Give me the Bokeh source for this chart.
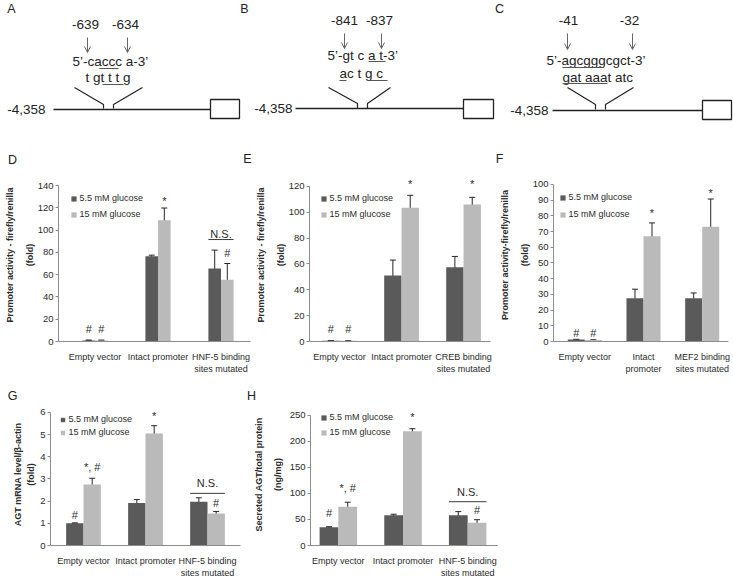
from bokeh.plotting import figure
from bokeh.models import (ColumnDataSource, Range1d, FixedTicker, LinearAxis, Whisker, TeeHead,
                          Legend, LegendItem, LabelSet, Arrow, OpenHead)
from bokeh.layouts import column, row
from bokeh.core.properties import value
from bokeh.embed import file_html
from bokeh.resources import INLINE

FONT = "Liberation Sans"
DARK = "#5a5a5a"
LIGHT = "#bababa"
AXIS = "#8c8c8c"
TXT = "#2b2b2b"
ERR = "#262626"

legend_labels = ["5.5 mM glucose", "15 mM glucose"]

# ---------------- Panel D ----------------
d_categories = ["Empty vector", "Intact promoter", "HNF-5 binding\nsites mutated"]
d_low = [1.0, 76.5, 65.5]
d_low_err = [0.3, 1.0, 16.5]
d_high = [1.0, 108.8, 55.5]
d_high_err = [0.3, 11.0, 14.5]
d_mark_text = ["#", "#", "*", "#"]
d_mark_cat = [0, 0, 1, 2]
d_mark_bar = ["low", "high", "high", "high"]
d_mark_y = [11, 11, 126, 79]
d_ns = (2, 96.5, 91.5)

# ---------------- Panel E ----------------
e_categories = ["Empty vector", "Intact promoter", "CREB binding\nsites mutated"]
e_low = [0.5, 51.0, 57.5]
e_low_err = [0.2, 12.0, 8.3]
e_high = [0.5, 103.5, 106.0]
e_high_err = [0.2, 9.6, 5.5]
e_mark_text = ["#", "#", "*", "*"]
e_mark_cat = [0, 0, 1, 2]
e_mark_bar = ["low", "high", "high", "high"]
e_mark_y = [9.5, 9.5, 121.5, 121.5]
e_ns = None

# ---------------- Panel F ----------------
f_categories = ["Empty vector", "Intact\npromoter", "MEF2 binding\nsites mutated"]
f_low = [1.2, 27.6, 27.6]
f_low_err = [0.2, 5.7, 3.3]
f_high = [0.9, 67.0, 73.0]
f_high_err = [0.2, 8.5, 17.7]
f_mark_text = ["#", "#", "*", "*"]
f_mark_cat = [0, 0, 1, 2]
f_mark_bar = ["low", "high", "high", "high"]
f_mark_y = [5.3, 5.3, 81.5, 94.7]
f_ns = None

# ---------------- Panel G ----------------
g_categories = ["Empty vector", "Intact promoter", "HNF-5 binding\nsites mutated"]
g_low = [1.0, 1.92, 1.97]
g_low_err = [0.02, 0.15, 0.18]
g_high = [2.75, 5.05, 1.44]
g_high_err = [0.28, 0.35, 0.09]
g_mark_text = ["#", "*, #", "*", "#"]
g_mark_cat = [0, 0, 1, 2]
g_mark_bar = ["low", "high", "high", "high"]
g_mark_y = [1.37, 3.54, 5.83, 1.9]
g_ns = (2, 2.83, 2.35)

# ---------------- Panel H ----------------
h_categories = ["Empty vector", "Intact promoter", "HNF-5 binding\nsites mutated"]
h_low = [35.0, 58.0, 58.0]
h_low_err = [1.0, 2.0, 7.0]
h_high = [74.5, 219.0, 43.5]
h_high_err = [8.5, 5.0, 6.0]
h_mark_text = ["#", "*, #", "*", "#"]
h_mark_cat = [0, 0, 1, 2]
h_mark_bar = ["low", "high", "high", "high"]
h_mark_y = [62, 110, 247, 68]
h_ns = (2, 102, 84)

# ---------------- Promoter diagrams (A, B, C) ----------------
panel_letters = ["A", "B", "C", "D", "E", "F"]
lower_letters = ["G", "H"]
site_labels = ["-639", "-634", "-841", "-837", "-41", "-32"]
seq_texts = ["5\u2019-caccc a-3\u2019", "t gt t t g", "5\u2019-gt c a t-3\u2019", "ac t g c",
             "5\u2019-agcgggcgct-3\u2019", "gat aaat atc"]
start_labels = ["-4,358", "-4,358", "-4,358"]


def bar_panel(cfg, cats, low, low_err, high, high_err, mk_text, mk_cat, mk_bar, mk_y, ns):
    fx0, fx1, fy0, fy1 = cfg["fig"]
    L, R, T, B = cfg["frame"]
    W = fx1 - fx0
    H = fy1 - fy0
    fh = B - fy0
    sp = cfg["sp"]
    bw = cfg["bw"]
    ymax = cfg["ymax"]
    xs = 0.5 - (cfg["c0"] - L) / sp
    xe = xs + (fx1 - L) / sp
    x_axis_end = xs + (R - L) / sp
    ytop = ymax * (B - fy0) / (B - T)
    p = figure(width=W, height=H, x_range=Range1d(xs, xe), y_range=Range1d(0, ytop),
               output_backend="svg", toolbar_location=None, tools="",
               min_border_left=L - fx0, min_border_right=0,
               min_border_top=0, min_border_bottom=fy1 - B,
               background_fill_color="white", border_fill_color="white")
    p.outline_line_color = None
    p.xgrid.visible = False
    p.ygrid.visible = False

    pos = [i + 0.5 for i in range(len(cats))]
    src = ColumnDataSource(dict(
        x_low=[x - bw / 2 for x in pos], x_high=[x + bw / 2 for x in pos],
        low=low, high=high,
        low_up=[v + e for v, e in zip(low, low_err)], low_lo=[v - e for v, e in zip(low, low_err)],
        high_up=[v + e for v, e in zip(high, high_err)], high_lo=[v - e for v, e in zip(high, high_err)],
    ))
    p.vbar(x="x_low", top="low", width=bw, source=src, fill_color=DARK, line_color=None)
    p.vbar(x="x_high", top="high", width=bw, source=src, fill_color=LIGHT, line_color=None)
    for xk, up, lo in (("x_low", "low_up", "low_lo"), ("x_high", "high_up", "high_lo")):
        w = Whisker(source=src, base=xk, upper=up, lower=lo, line_color=ERR, line_width=1,
                    upper_head=TeeHead(size=6, line_color=ERR, line_width=1),
                    lower_head=TeeHead(size=6, line_color=ERR, line_width=1))
        p.add_layout(w)

    # x axis
    xa = p.xaxis[0]
    xa.ticker = FixedTicker(ticks=pos)
    xa.bounds = (xs, x_axis_end)
    xa.major_label_overrides = {x: c for x, c in zip(pos, cats)}
    xa.major_tick_line_color = None
    xa.minor_tick_line_color = None
    xa.axis_line_color = AXIS
    xa.major_label_text_font = FONT
    xa.major_label_text_font_size = "9px"
    xa.major_label_text_color = TXT
    xa.major_label_standoff = 4

    # y axis
    ya = p.yaxis[0]
    ya.ticker = FixedTicker(ticks=list(range(0, ymax + 1, cfg["ystep"])))
    ya.bounds = (0, ymax)
    ya.major_tick_out = 3
    ya.major_tick_in = 0
    ya.minor_tick_line_color = None
    ya.axis_line_color = AXIS
    ya.major_tick_line_color = AXIS
    ya.major_label_text_font = FONT
    ya.major_label_text_font_size = "9.5px"
    ya.major_label_text_color = TXT
    ya.major_label_standoff = 2
    ya.axis_label = cfg["ylab"][1]
    ya.axis_label_text_font = FONT
    ya.axis_label_text_font_style = "bold"
    ya.axis_label_text_font_size = "9px"
    ya.axis_label_text_color = TXT
    ya.axis_label_standoff = cfg["so"][0]

    ya2 = LinearAxis(ticker=FixedTicker(ticks=[]), axis_label=cfg["ylab"][0], bounds=(0, ymax),
                     axis_line_color=None, major_tick_line_color=None, minor_tick_line_color=None,
                     major_tick_out=0, major_tick_in=0, major_label_standoff=0,
                     axis_label_standoff=cfg["so"][1], axis_label_text_font=FONT,
                     axis_label_text_font_style="bold", axis_label_text_font_size="9px",
                     axis_label_text_color=TXT)
    p.add_layout(ya2, "left")

    # legend keys (square markers, not drawn in the plot itself)
    r1 = p.scatter(x="x_low", y="low", source=src, marker="square", fill_color=DARK,
                   line_color=None, visible=False)
    r2 = p.scatter(x="x_high", y="high", source=src, marker="square", fill_color=LIGHT,
                   line_color=None, visible=False)
    lx, ly, gh, spc = cfg["leg"]
    gw = 13
    vx = (lx - L) - gw / 2
    top_gap = (ly - fy0) - gh / 2
    leg_h = 2 * gh + spc
    vy = fh - top_gap - leg_h
    leg = Legend(items=[LegendItem(label=legend_labels[0], renderers=[r1]),
                        LegendItem(label=legend_labels[1], renderers=[r2])],
                 location=(vx, vy), glyph_width=gw, glyph_height=gh, label_height=gh,
                 label_width=10, spacing=spc, padding=0, margin=0, label_standoff=-1,
                 border_line_color=None, background_fill_alpha=0,
                 label_text_font=FONT, label_text_font_size="9px", label_text_color=TXT)
    p.add_layout(leg)

    # significance marks
    mx = []
    for c, b in zip(mk_cat, mk_bar):
        off = -bw / 2 if b == "low" else (bw / 2 if b == "high" else 0)
        mx.append(pos[c] + off)
    texts = list(mk_text)
    ys = list(mk_y)
    if ns is not None:
        c, ty, ly2 = ns
        mx.append(pos[c])
        texts.append("N.S.")
        ys.append(ty)
        p.segment(x0=[pos[c] - bw], x1=[pos[c] + bw], y0=[ly2], y1=[ly2],
                  line_color="#3a3a3a", line_width=1)
    msrc = ColumnDataSource(dict(x=mx, y=ys, text=texts))
    p.add_layout(LabelSet(x="x", y="y", text="text", source=msrc, text_align="center",
                          text_baseline="middle", text_font=value(FONT),
                          text_font_size="11px", text_color=TXT))
    return p


def blank_canvas(width, y0, y1):
    f = figure(width=width, height=y1 - y0, x_range=Range1d(0, width), y_range=Range1d(y1, y0),
               output_backend="svg", toolbar_location=None, tools="",
               x_axis_location=None, y_axis_location=None, min_border=0,
               min_border_left=0, min_border_right=0, min_border_top=0, min_border_bottom=0,
               background_fill_color="white", border_fill_color="white")
    f.outline_line_color = None
    f.xgrid.visible = False
    f.ygrid.visible = False
    return f


tf = value(FONT)

# ---------------- top diagrams (+ letters of the middle row) ----------------
top = blank_canvas(733, 0, 168)
top.text(x=[11, 244, 499, 12, 247, 499], y=[8.5, 8.5, 8.5, 159, 158, 158], text=panel_letters,
         text_font=tf, text_font_size="12.5px", text_align="center", text_baseline="middle",
         text_color="#222222")
top.text(x=[85, 125, 344, 379, 568, 629], y=[24, 24, 20, 20, 20, 20], text=site_labels,
         text_font=tf, text_font_size="13.5px", text_align="center", text_baseline="middle",
         text_color="#222222")
top.text(x=[72, 85, 327, 339, 546, 562], y=[61, 77, 55, 73, 60, 77], text=seq_texts,
         text_font=tf, text_font_size="13.5px", text_align="left", text_baseline="middle",
         text_color="#222222")
top.text(x=[45, 292, 548], y=[109, 108, 110], text=start_labels, text_font=tf,
         text_font_size="13.5px", text_align="right", text_baseline="middle", text_color="#222222")
arrow_src = ColumnDataSource(dict(x0=[87, 127, 344, 381, 567, 632], y0=[37, 37, 33, 33, 33, 33],
                                  x1=[87, 127, 344, 381, 567, 632], y1=[52, 52, 48, 48, 49, 49]))
top.add_layout(Arrow(source=arrow_src, x_start="x0", y_start="y0", x_end="x1", y_end="y1",
                     line_color="#666666", line_width=1,
                     end=OpenHead(size=6, line_color="#666666", line_width=1)))
top.segment(x0=[99, 102, 368, 339, 368, 562, 562], x1=[118, 123, 385, 346, 387, 603, 607],
            y0=[68, 84, 61, 80, 80, 67, 83], y1=[68, 84, 61, 80, 80, 67, 83],
            line_color="#555555", line_width=1)
top.multi_line(xs=[[74, 103, 103], [142, 113, 113], [328, 357, 357], [390, 367, 367],
                   [567, 595, 595], [633, 605, 605]],
               ys=[[87, 104, 108], [87, 104, 108], [87, 103, 108], [87, 103, 108],
                   [87, 104, 109], [87, 104, 109]],
               line_color="#222222", line_width=1.2)
top.segment(x0=[53, 295, 552], x1=[210, 463, 702], y0=[109, 108, 110], y1=[109, 108, 110],
            line_color="#222222", line_width=1.5)
top.quad(left=[210, 463, 702], right=[239, 493, 731], top=[99, 99, 100], bottom=[118, 118, 119],
         fill_color="white", line_color="#222222", line_width=1.3)

# ---------------- letters of the lower row ----------------
strip = blank_canvas(733, 378, 403)
strip.text(x=[12, 251], y=[395, 395], text=lower_letters, text_font=tf, text_font_size="12.5px",
           text_align="center", text_baseline="middle", text_color="#222222")

# ---------------- bar panels ----------------
cfg_d = dict(fig=(0, 252, 168, 378), frame=(58, 250, 185, 341), c0=94.5, sp=63, bw=0.2,
             ymax=140, ystep=20, ylab=("Promoter activity - firefly/renilla", "(fold)"), so=(0, 7),
             leg=(73, 198, 13, 3))
cfg_e = dict(fig=(252, 496, 168, 378), frame=(303, 490, 186, 342), c0=334, sp=64, bw=0.28,
             ymax=120, ystep=20, ylab=("Promoter activity - firefly/renilla", "(fold)"), so=(0, 7),
             leg=(317, 199, 13, 3))
cfg_f = dict(fig=(496, 733, 168, 378), frame=(549, 728, 184, 342), c0=581, sp=60, bw=0.29,
             ymax=100, ystep=10, ylab=("Promoter activity-firefly/renilla", "(fold)"), so=(0, 7),
             leg=(558, 198, 13, 4))
cfg_g = dict(fig=(0, 250, 403, 580), frame=(50, 240, 412, 547), c0=83, sp=62, bw=0.28,
             ymax=6, ystep=1, ylab=("AGT mRNA level/\u03b2-actin", "(fold)"), so=(1, 1),
             leg=(62, 421, 11, 2))
cfg_h = dict(fig=(250, 500, 403, 580), frame=(309, 497, 415, 549), c0=337, sp=65, bw=0.29,
             ymax=250, ystep=50, ylab=("Secreted AGT/total protein", "(ng/mg)"), so=(4, 6),
             leg=(322, 421, 13, 2))

pD = bar_panel(cfg_d, d_categories, d_low, d_low_err, d_high, d_high_err,
               d_mark_text, d_mark_cat, d_mark_bar, d_mark_y, d_ns)
pE = bar_panel(cfg_e, e_categories, e_low, e_low_err, e_high, e_high_err,
               e_mark_text, e_mark_cat, e_mark_bar, e_mark_y, e_ns)
pF = bar_panel(cfg_f, f_categories, f_low, f_low_err, f_high, f_high_err,
               f_mark_text, f_mark_cat, f_mark_bar, f_mark_y, f_ns)
pG = bar_panel(cfg_g, g_categories, g_low, g_low_err, g_high, g_high_err,
               g_mark_text, g_mark_cat, g_mark_bar, g_mark_y, g_ns)
pH = bar_panel(cfg_h, h_categories, h_low, h_low_err, h_high, h_high_err,
               h_mark_text, h_mark_cat, h_mark_bar, h_mark_y, h_ns)

layout = column(top, row(pD, pE, pF), strip, row(pG, pH))

open("out.html", "w").write(file_html(layout, INLINE))
